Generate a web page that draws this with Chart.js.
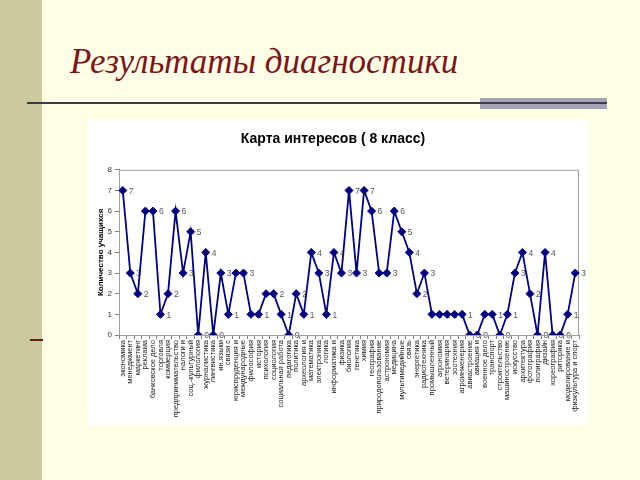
<!DOCTYPE html>
<html>
<head>
<meta charset="utf-8">
<script src="https://cdn.jsdelivr.net/npm/chart.js@4"></script>
<style>
  html, body { margin: 0; padding: 0; }
  body { width: 640px; height: 480px; background: #ffffe6; position: relative; overflow: hidden; }
  #strip { position: absolute; left: 0; top: 0; width: 42px; height: 480px; background: #caca9c; }
  #mark { position: absolute; left: 30px; top: 339px; width: 13px; height: 2px; background: #6b1a1a; }
  #title { position: absolute; left: 70px; top: 42px; font: italic 35px "Liberation Serif", "DejaVu Serif", serif; color: #7a1518; white-space: nowrap; }
  #rule { position: absolute; left: 27px; top: 102px; width: 580px; height: 2px; background: #3a3a48; }
  #bar { position: absolute; left: 480px; top: 98px; width: 127px; height: 11px; background: #a3a3b5; }
  #box { position: absolute; left: 87px; top: 119px; width: 501px; height: 306px; background: #fff; }
</style>
</head>
<body>
<div id="strip"></div>
<div id="mark"></div>
<div id="title">Результаты диагностики</div>
<div id="bar"></div>
<div id="rule"></div>
<div id="box"><canvas id="chart" width="501" height="306"></canvas></div>
<script>
const categories = [
  'экономика', 'менеджмент', 'маркетинг', 'реклама', 'банковское дело',
  'торговля', 'коммерция', 'предпринимательство', 'налоги и', 'соц.-культурный',
  'филология', 'журналистика', 'лингвистика', 'ин.языки', 'связи с',
  'юриспруденция и', 'международные', 'философия', 'история', 'психология',
  'социология', 'социальная работа', 'педагогика', 'политика', 'археология и',
  'математика', 'электроника', 'логика', 'информатика и', 'физика',
  'биология', 'генетика', 'химия', 'география', 'природопользование',
  'астрономия', 'медицина', 'мультимедийные', 'связь', 'энергетика',
  'радиотехника', 'промышленный', 'агрономия', 'ветеринария', 'зоотехния',
  'агроинженерия', 'авиастроение', 'авиация и', 'военное дело', 'транспорт',
  'строительство', 'машиностроение', 'искусство', 'архитектура', 'фотография',
  'полиграфия', 'дизайн', 'хореография', 'риторика', 'моделирование и',
  'физкультура и спорт'
];

const students = [
  7, 3, 2, 6, 6, 1, 2, 6, 3, 5,
  0, 4, 0, 3, 1, 3, 3, 1, 1, 2,
  2, 1, 0, 2, 1, 4, 3, 1, 4, 3,
  7, 3, 7, 6, 3, 3, 6, 5, 4, 2,
  3, 1, 1, 1, 1, 1, 0, 0, 1, 1,
  0, 1, 3, 4, 2, 0, 4, 0, 0, 1,
  3
];

const yTicks = [0, 1, 2, 3, 4, 5, 6, 7, 8];

const fontFamily = 'Arial, "Liberation Sans", sans-serif';

// value labels go under the line, like in Excel
const valueLabels = {
  id: 'valueLabels',
  beforeDatasetsDraw(chart) {
    const ctx = chart.ctx;
    const pts = chart.getDatasetMeta(0).data;
    ctx.save();
    ctx.font = '8.5px ' + fontFamily;
    ctx.fillStyle = '#555';
    ctx.textAlign = 'left';
    ctx.textBaseline = 'middle';
    pts.forEach((p, i) => {
      ctx.fillText(String(students[i]), p.x + 6, p.y + 1);
    });
    ctx.restore();
  }
};

const plotBorder = {
  id: 'plotBorder',
  beforeDatasetsDraw(chart) {
    const a = chart.chartArea;
    const ctx = chart.ctx;
    ctx.save();
    ctx.strokeStyle = '#a0a0a0';
    ctx.lineWidth = 1;
    ctx.strokeRect(a.left + 0.5, a.top + 0.5, a.right - a.left - 1, a.bottom - a.top);
    ctx.restore();
  }
};

new Chart(document.getElementById('chart'), {
  type: 'line',
  data: {
    labels: categories,
    datasets: [{
      data: students,
      borderColor: '#000080',
      backgroundColor: '#000080',
      borderWidth: 1.8,
      tension: 0,
      pointStyle: 'rectRot',
      pointRadius: 4,
      pointBackgroundColor: '#000080',
      pointBorderColor: '#000080',
      pointBorderWidth: 1
    }]
  },
  options: {
    responsive: false,
    animation: false,
    layout: { padding: { left: 0, right: 9, top: 0, bottom: 0 } },
    plugins: {
      legend: { display: false },
      tooltip: { enabled: false },
      title: {
        display: true,
        text: 'Карта интересов ( 8 класс)',
        color: '#000',
        font: { family: fontFamily, size: 14, weight: 'bold' },
        padding: { top: 12, bottom: 22 }
      }
    },
    scales: {
      x: {
        type: 'category',
        offset: true,
        grid: { display: true, drawOnChartArea: false, offset: true, tickLength: 4, color: '#808080' },
        border: { display: true, color: '#808080' },
        ticks: {
          autoSkip: false,
          maxRotation: 90,
          minRotation: 90,
          padding: 1,
          color: '#222',
          font: { family: fontFamily, size: 7.5 }
        },
        afterFit(scale) { scale.height = 90; }
      },
      y: {
        min: 0,
        max: 8,
        afterBuildTicks(scale) { scale.ticks = yTicks.map(v => ({ value: v })); },
        grid: { display: true, drawOnChartArea: false, tickLength: 4, color: '#808080' },
        border: { display: true, color: '#808080' },
        ticks: {
          padding: 3,
          color: '#333',
          font: { family: fontFamily, size: 8 }
        },
        title: {
          display: true,
          text: 'Количество учащихся',
          color: '#000',
          font: { family: fontFamily, size: 8, weight: 'bold' },
          padding: { top: 9, bottom: 0 }
        },
        afterFit(scale) { scale.width = 32; }
      }
    }
  },
  plugins: [valueLabels, plotBorder]
});
</script>
</body>
</html>
